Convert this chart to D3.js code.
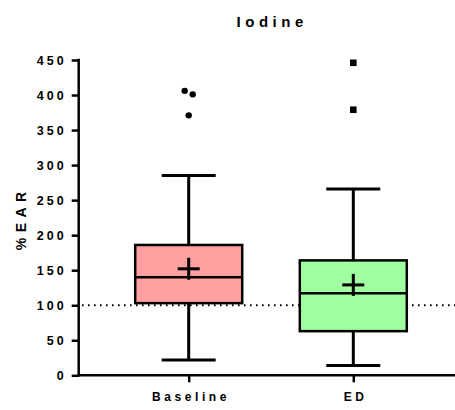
<!DOCTYPE html>
<html>
<head>
<meta charset="utf-8">
<script src="https://cdn.jsdelivr.net/npm/d3@7"></script>
<style>
  html, body { margin: 0; padding: 0; background: #fff; }
  svg { display: block; font-family: "Liberation Sans", Arial, sans-serif; }
</style>
</head>
<body>
<svg id="chart" width="455" height="410"></svg>
<script>
// Box-plot summary for each group (% of Estimated Average Requirement)
const groups = ["Baseline", "ED"];
const whiskerLow = [22, 14];
const q1 = [103, 63];
const median = [140, 117];
const q3 = [186, 164];
const whiskerHigh = [285, 266];
const means = [152, 129];
const fills = ["#ff9f9f", "#a0ffa0"];

// Outlying observations
const baselineOutliers = [406, 401, 371];
const baselineOutlierOffset = [-4, 4, 0];
const edOutliers = [446, 379];

const yTicks = [0, 50, 100, 150, 200, 250, 300, 350, 400, 450];
const referenceLine = 100;

const svg = d3.select("#chart");

const y = d3.scaleLinear().domain([0, 450]).range([375.3, 60]);
const x = d3.scalePoint().domain(groups).range([188.7, 353.3]);

const boxW = 107, capW = 54;

// Title
svg.append("text")
  .attr("x", 270).attr("y", 27)
  .attr("text-anchor", "middle")
  .attr("font-size", 15).attr("font-weight", "bold")
  .attr("letter-spacing", "4.5px")
  .attr("dx", "2.2px")
  .text("Iodine");

// Y axis title
svg.append("text")
  .attr("transform", "translate(25.5,221) rotate(-90)")
  .attr("text-anchor", "middle")
  .attr("font-size", 14).attr("font-weight", "bold")
  .attr("letter-spacing", "5.5px")
  .attr("dx", "2.7px")
  .text("%EAR");

// Dotted reference line at 100%
svg.append("line")
  .attr("x1", 82).attr("x2", 455)
  .attr("y1", y(referenceLine)).attr("y2", y(referenceLine))
  .attr("stroke", "#000").attr("stroke-width", 2)
  .attr("stroke-dasharray", "1.6,4.4");

// Boxes
const g = svg.append("g");
groups.forEach((name, i) => {
  const cx = x(name);
  const sw = 2.5;
  // whiskers
  g.append("line").attr("x1", cx).attr("x2", cx)
    .attr("y1", y(q3[i])).attr("y2", y(whiskerHigh[i]))
    .attr("stroke", "#000").attr("stroke-width", 3);
  g.append("line").attr("x1", cx).attr("x2", cx)
    .attr("y1", y(q1[i])).attr("y2", y(whiskerLow[i]))
    .attr("stroke", "#000").attr("stroke-width", 3);
  g.append("line").attr("x1", cx - capW / 2).attr("x2", cx + capW / 2)
    .attr("y1", y(whiskerHigh[i])).attr("y2", y(whiskerHigh[i]))
    .attr("stroke", "#000").attr("stroke-width", 3);
  g.append("line").attr("x1", cx - capW / 2).attr("x2", cx + capW / 2)
    .attr("y1", y(whiskerLow[i])).attr("y2", y(whiskerLow[i]))
    .attr("stroke", "#000").attr("stroke-width", 3);
  // box
  g.append("rect")
    .attr("x", cx - boxW / 2).attr("width", boxW)
    .attr("y", y(q3[i])).attr("height", y(q1[i]) - y(q3[i]))
    .attr("fill", fills[i]).attr("stroke", "#000").attr("stroke-width", sw);
  // median
  g.append("line").attr("x1", cx - boxW / 2).attr("x2", cx + boxW / 2)
    .attr("y1", y(median[i])).attr("y2", y(median[i]))
    .attr("stroke", "#000").attr("stroke-width", sw);
  // mean marker (+)
  g.append("line").attr("x1", cx - 11).attr("x2", cx + 11)
    .attr("y1", y(means[i])).attr("y2", y(means[i]))
    .attr("stroke", "#000").attr("stroke-width", 3);
  g.append("line").attr("x1", cx).attr("x2", cx)
    .attr("y1", y(means[i]) - 11).attr("y2", y(means[i]) + 11)
    .attr("stroke", "#000").attr("stroke-width", 3);
});

// Outliers
svg.selectAll("circle.out").data(baselineOutliers).enter()
  .append("circle")
  .attr("cx", (d, k) => x("Baseline") + baselineOutlierOffset[k])
  .attr("cy", d => y(d))
  .attr("r", 3.2).attr("fill", "#000");
svg.selectAll("rect.out").data(edOutliers).enter()
  .append("rect")
  .attr("x", x("ED") - 3.3).attr("width", 6.6)
  .attr("y", d => y(d) - 3.3).attr("height", 6.6)
  .attr("fill", "#000");

// Y axis
const yAxis = svg.append("g")
  .attr("transform", "translate(78.7,0)")
  .call(d3.axisLeft(y).tickValues(yTicks).tickSize(7).tickPadding(5).tickSizeOuter(0));
yAxis.select(".domain").attr("stroke-width", 2.5).attr("d", `M0,${y(0) + 1.2}V${y(450) - 1.2}`);
yAxis.selectAll(".tick line").attr("stroke-width", 2.5);
yAxis.selectAll(".tick text")
  .attr("font-size", 12.5).attr("font-weight", "bold")
  .attr("font-family", "Liberation Sans, Arial, sans-serif")
  .attr("letter-spacing", "3px").attr("fill", "#000");

// X axis
const xAxis = svg.append("g")
  .attr("transform", `translate(0,${y(0)})`)
  .call(d3.axisBottom(x).tickSize(7).tickPadding(10).tickSizeOuter(0));
xAxis.select(".domain").attr("stroke-width", 2.5).attr("d", "M77.5,0H455");
xAxis.selectAll(".tick line").attr("stroke-width", 2.5);
xAxis.selectAll(".tick text")
  .attr("font-size", 12).attr("font-weight", "bold")
  .attr("font-family", "Liberation Sans, Arial, sans-serif")
  .attr("letter-spacing", "3.6px").attr("fill", "#000")
  .attr("dx", "1.8px");
</script>
</body>
</html>
